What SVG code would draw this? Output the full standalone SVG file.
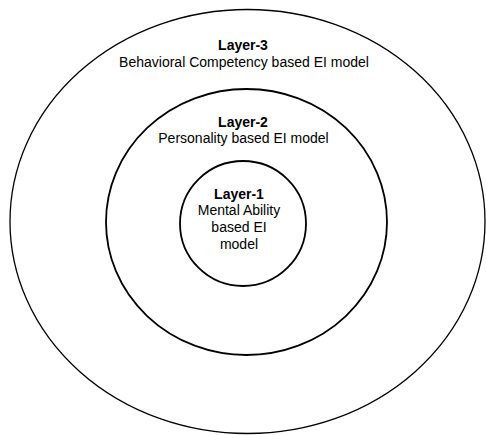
<svg xmlns="http://www.w3.org/2000/svg" width="486" height="435" viewBox="0 0 486 435">
<style>
.ring{fill:none;stroke:#000}
.t{font-family:"Liberation Sans",Arial,sans-serif;font-size:14px;fill:#000;text-anchor:middle}
.b{font-weight:bold}
</style>
<rect width="486" height="435" fill="#fff"/>
<g id="layer3">
<ellipse class="ring" cx="247.5" cy="221.5" rx="237.5" ry="212" stroke-width="1.3"/>
<text class="t b" x="243" y="50">Layer-3</text>
<text class="t" x="244" y="67">Behavioral Competency based EI model</text>
</g>
<g id="layer2">
<ellipse class="ring" cx="246.5" cy="222" rx="140.5" ry="133" stroke-width="1.8"/>
<text class="t b" x="243" y="127">Layer-2</text>
<text class="t" x="243.5" y="143">Personality based EI model</text>
</g>
<g id="layer1">
<ellipse class="ring" cx="243" cy="223.5" rx="63" ry="62.5" stroke-width="1.8"/>
<text class="t b" x="239" y="199">Layer-1</text>
<text class="t" x="239" y="215">Mental Ability</text>
<text class="t" x="239" y="232">based EI</text>
<text class="t" x="239" y="249">model</text>
</g>
<g id="connectors"/>
</svg>
